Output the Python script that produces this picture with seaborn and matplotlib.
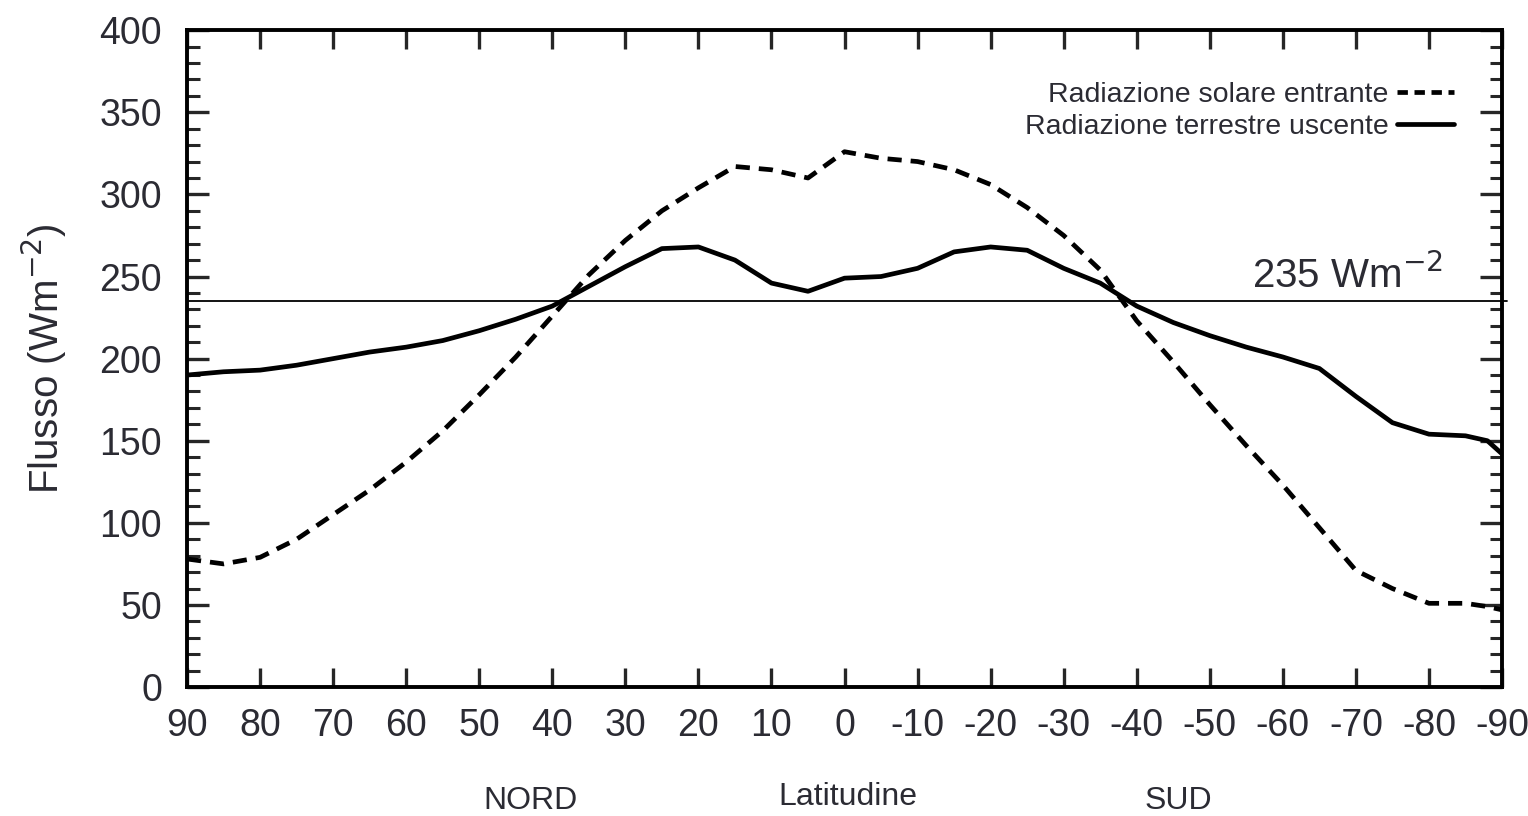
import numpy as np
import pandas as pd
import matplotlib
matplotlib.use("Agg")
import matplotlib.pyplot as plt
import seaborn as sns
from matplotlib.ticker import MultipleLocator
from matplotlib.lines import Line2D

latitudes = [90, 85, 80, 75, 70, 65, 60, 55, 50, 45, 40, 35, 30, 25, 20, 15, 10, 5, 0,
             -5, -10, -15, -20, -25, -30, -35, -40, -45, -50, -55, -60, -65, -70, -75, -80, -85, -88, -90]
solare = [78, 75, 79, 90, 105, 120, 137, 156, 178, 201, 226, 251, 272, 290, 304, 317, 315, 310, 326,
          322, 320, 315, 306, 292, 275, 254, 223, 198, 172, 147, 123, 97, 71, 60, 51, 51, 49, 47]
terrestre = [190, 192, 193, 196, 200, 204, 207, 211, 217, 224, 232, 244, 256, 267, 268, 260, 246, 241, 249,
             250, 255, 265, 268, 266, 255, 246, 232, 222, 214, 207, 201, 194, 177, 161, 154, 153, 150, 142]
serie = ["Radiazione solare entrante", "Radiazione terrestre uscente"]
riferimento = 235
x_ticks = [90, 80, 70, 60, 50, 40, 30, 20, 10, 0, -10, -20, -30, -40, -50, -60, -70, -80, -90]
y_ticks = [0, 50, 100, 150, 200, 250, 300, 350, 400]

df = pd.concat([
    pd.DataFrame({"lat": latitudes, "flusso": solare, "serie": serie[0]}),
    pd.DataFrame({"lat": latitudes, "flusso": terrestre, "serie": serie[1]}),
])

sns.set_theme(style="white")
plt.rcParams["font.family"] = ["Liberation Sans", "DejaVu Sans"]
txt = "#2b2b33"

fig = plt.figure(figsize=(15.28, 8.16), dpi=100)
ax = fig.add_axes([0.1224, 0.158, 0.8606, 0.805])

sns.lineplot(data=df, x="lat", y="flusso", style="serie", style_order=serie,
             dashes={serie[0]: (3.0, 1.9), serie[1]: ""}, color="black",
             linewidth=3.4, ax=ax, legend=False, sort=False)

ax.axhline(riferimento, xmin=0, xmax=1.004, color="black", linewidth=1.3, clip_on=False, zorder=1)

ax.set_xlim(90, -90)
ax.set_ylim(0, 400)
ax.set_xticks(x_ticks)
ax.set_xticklabels([str(v) for v in x_ticks])
ax.set_yticks(y_ticks)
ax.yaxis.set_minor_locator(MultipleLocator(10))

for s in ax.spines.values():
    s.set_visible(True)
    s.set_color("black")
    s.set_linewidth(2.8)

ax.tick_params(axis="x", which="major", direction="in", length=14, width=2.4,
               top=True, bottom=True, labelsize=27, labelcolor=txt, pad=15)
ax.tick_params(axis="y", which="major", direction="in", length=16, width=2.4,
               left=True, right=True, labelsize=27, labelcolor=txt, pad=18)
ax.tick_params(axis="y", which="minor", direction="in", length=9, width=2.2,
               left=True, right=True)

ax.set_xlabel("")
ax.set_ylabel("Flusso (Wm$^{-2}$)", fontsize=29, color=txt, labelpad=22)

handles = [Line2D([], [], color="black", linewidth=3.4, linestyle=(0, (2.2, 1.4))),
           Line2D([], [], color="black", linewidth=3.4)]
leg = ax.legend(handles, serie, loc="upper right", bbox_to_anchor=(0.972, 0.938), frameon=False,
                markerfirst=False, fontsize=20.5, handlelength=2.0, handletextpad=0.3,
                labelspacing=0.2, borderaxespad=0)
for t in leg.get_texts():
    t.set_color(txt)

ax.text(0.955, 0.595, "235 Wm$^{-2}$", transform=ax.transAxes, ha="right", va="bottom",
        fontsize=29, color=txt)

fig.text(530 / 1528, 1 - 801 / 816, "NORD", ha="center", va="center", fontsize=23, color=txt)
fig.text(848 / 1528, 1 - 797 / 816, "Latitudine", ha="center", va="center", fontsize=23, color=txt)
fig.text(1178 / 1528, 1 - 801 / 816, "SUD", ha="center", va="center", fontsize=23, color=txt)

fig.savefig("out.png", dpi=100, facecolor="white")
